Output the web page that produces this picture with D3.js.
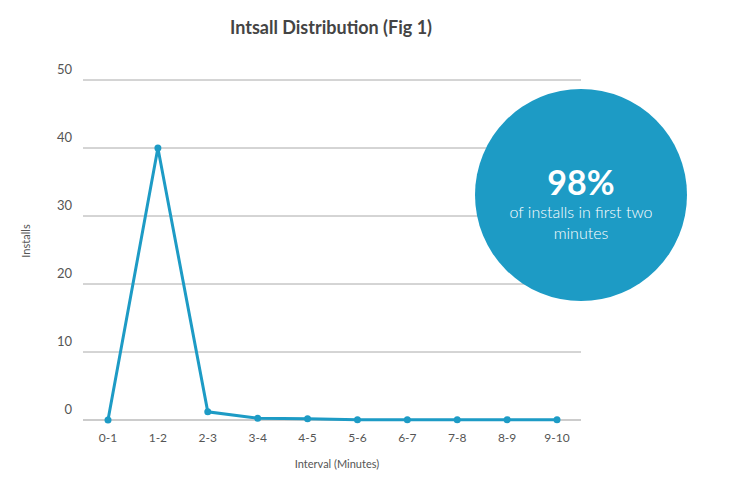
<!DOCTYPE html><html><head><meta charset="utf-8"><script src="https://cdn.jsdelivr.net/npm/d3@7"></script>
<style>body{margin:0;background:#fff;font-family:Lato,sans-serif}</style></head><body><svg id="c" width="732" height="481"></svg>
<script>
const categories=["0-1","1-2","2-3","3-4","4-5","5-6","6-7","7-8","8-9","9-10"];
const installs=[0,40,1.2,0.25,0.2,0.05,0.05,0.05,0.05,0.05];
const yTicks=[0,10,20,30,40,50];
const svg=d3.select("#c");
const col="#1d9bc5";
const x=d3.scalePoint().domain(categories).range([108,557]);
const y=d3.scaleLinear().domain([0,50]).range([420,80]);
svg.append("g").selectAll("line").data(yTicks).join("line")
 .attr("x1",83).attr("x2",581).attr("y1",d=>y(d)).attr("y2",d=>y(d))
 .attr("stroke",d=>d===0?"#999":"#aaa").attr("stroke-width",1);
svg.append("g").selectAll("text").data(yTicks).join("text")
 .attr("x",72).attr("y",d=>y(d)-6).attr("text-anchor","end").attr("font-size",13).attr("fill","#555").text(d=>d);
svg.append("g").selectAll("text").data(categories).join("text")
 .attr("x",d=>x(d)).attr("y",442).attr("text-anchor","middle").attr("font-size",12).attr("fill","#555").text(d=>d);
svg.append("path").datum(installs).attr("fill","none").attr("stroke",col).attr("stroke-width",3)
 .attr("d",d3.line().x((d,i)=>x(categories[i])).y(d=>y(d)));
svg.append("g").selectAll("circle").data(installs).join("circle")
 .attr("cx",(d,i)=>x(categories[i])).attr("cy",d=>y(d)).attr("r",3.5).attr("fill",col);
svg.append("text").attr("x",331).attr("y",34).attr("text-anchor","middle").attr("font-size",18).attr("font-weight","bold").attr("fill","#444").text("Intsall Distribution (Fig 1)");
svg.append("text").attr("x",337).attr("y",468).attr("text-anchor","middle").attr("font-size",11).attr("fill","#555").text("Interval (Minutes)");
svg.append("text").attr("transform","translate(30,241) rotate(-90)").attr("text-anchor","middle").attr("font-size",11).attr("fill","#555").text("Installs");
svg.append("circle").attr("cx",581).attr("cy",195).attr("r",106).attr("fill",col);
svg.append("text").attr("x",581).attr("y",195).attr("text-anchor","middle").attr("font-size",34).attr("font-weight","bold").attr("fill","#fff").text("98%");
svg.append("text").attr("x",581).attr("y",218).attr("text-anchor","middle").attr("font-size",16).attr("font-weight",300).attr("fill","#fff").text("of installs in first two");
svg.append("text").attr("x",581).attr("y",239).attr("text-anchor","middle").attr("font-size",16).attr("font-weight",300).attr("fill","#fff").text("minutes");
</script></body></html>
